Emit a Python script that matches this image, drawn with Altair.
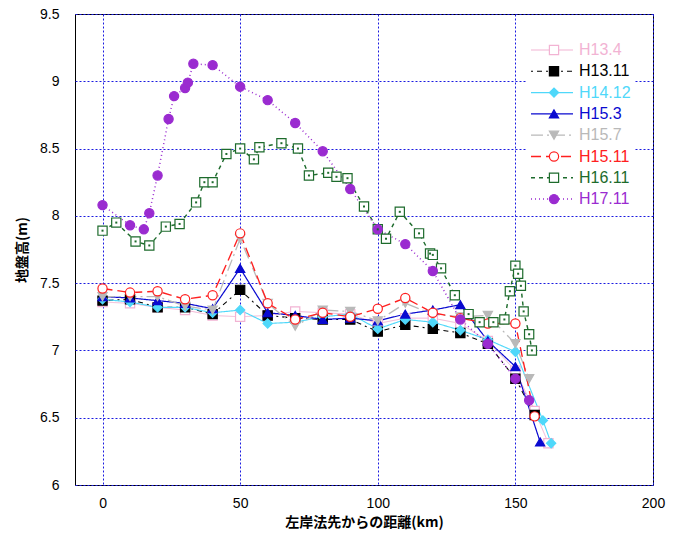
import altair as alt
import pandas as pd

series = ["H13.4", "H13.11", "H14.12", "H15.3", "H15.7", "H15.11", "H16.11", "H17.11"]
marker_keys = ["p0", "p1", "p2", "p3", "p4", "p5", "p6", "p7"]
colors = ["#f2b3d3", "#000000", "#4fd8fa", "#0a0ad0", "#b9b9b9", "#ff2020", "#1d6b2c", "#9a2bd0"]
dashes = [[1, 0], [2, 4, 5, 4], [1, 0], [1, 0], [12, 4, 2, 4], [10, 5], [4, 4], [1, 3]]
widths = [1.0, 1.5, 1.2, 2.0, 2.0, 1.2, 1.2, 1.6]
shapes = ["square", "square", "diamond", "triangle-up", "triangle-down", "circle", "square", "circle"]
fills = ["#ffffff", "#000000", "#4fd8fa", "#0a0ad0", "#b9b9b9", "#ffffff", "#ffffff", "#9a2bd0"]

x_h13_4 = [0, 10, 20, 30, 40, 50, 60, 70, 80, 90, 100, 110, 120, 130, 140, 150, 157, 162]
y_h13_4 = [7.36, 7.35, 7.32, 7.30, 7.26, 7.25, 7.26, 7.29, 7.28, 7.27, 7.20, 7.24, 7.24, 7.20, 7.07, 6.85, 6.55, 6.31]

x_h13_11 = [0, 10, 20, 30, 40, 50, 60, 70, 80, 90, 100, 110, 120, 130, 140, 150, 157]
y_h13_11 = [7.37, 7.38, 7.32, 7.32, 7.27, 7.45, 7.26, 7.24, 7.23, 7.23, 7.14, 7.19, 7.16, 7.13, 7.05, 6.79, 6.52]

x_h14_12 = [0, 10, 20, 30, 40, 50, 60, 70, 80, 90, 100, 110, 120, 130, 140, 150, 160, 163]
y_h14_12 = [7.38, 7.36, 7.32, 7.32, 7.28, 7.30, 7.20, 7.21, 7.25, 7.27, 7.16, 7.23, 7.21, 7.15, 7.08, 6.99, 6.48, 6.31]

x_h15_3 = [0, 10, 20, 30, 40, 50, 60, 70, 80, 90, 100, 110, 120, 130, 140, 150, 159]
y_h15_3 = [7.40, 7.39, 7.37, 7.35, 7.31, 7.61, 7.28, 7.26, 7.23, 7.24, 7.22, 7.27, 7.30, 7.34, 7.07, 6.88, 6.32]

x_h15_7 = [0, 10, 20, 30, 40, 50, 60, 70, 80, 90, 100, 110, 120, 130, 140, 150, 155]
y_h15_7 = [7.40, 7.40, 7.40, 7.33, 7.30, 7.83, 7.35, 7.18, 7.30, 7.29, 7.22, 7.35, 7.27, 7.25, 7.26, 7.05, 6.79]

x_h15_11 = [0, 10, 20, 30, 40, 50, 60, 70, 80, 90, 100, 110, 120, 130, 140, 150, 157]
y_h15_11 = [7.46, 7.43, 7.44, 7.38, 7.41, 7.87, 7.35, 7.23, 7.28, 7.25, 7.31, 7.39, 7.28, 7.24, 7.20, 7.20, 6.51]

x_h16_11 = [0, 5, 12, 17, 23, 28, 34, 37, 40, 45, 50, 55, 57, 65, 71, 75, 82, 85, 89, 95, 100,
            103, 108, 115, 119, 120, 123, 128, 133, 137, 142, 146, 148, 150, 151, 152, 153, 155, 156]
y_h16_11 = [7.89, 7.95, 7.81, 7.78, 7.92, 7.94, 8.10, 8.25, 8.25, 8.46, 8.50, 8.42, 8.51, 8.54, 8.50, 8.30, 8.32, 8.29, 8.28, 8.07, 7.90,
            7.83, 8.03, 7.87, 7.72, 7.71, 7.61, 7.41, 7.27, 7.21, 7.21, 7.23, 7.44, 7.63, 7.57, 7.48, 7.29, 7.12, 7.00]

x_h17_11 = [0, 10, 15, 17, 20, 24, 26, 30, 31, 33, 40, 50, 60, 70, 80, 90, 100, 110, 120, 130, 140, 150, 155]
y_h17_11 = [8.08, 7.93, 7.90, 8.02, 8.30, 8.72, 8.89, 8.95, 8.99, 9.13, 9.12, 8.96, 8.86, 8.69, 8.48, 8.20, 7.90, 7.79, 7.59, 7.23, 7.05, 6.79, 6.63]

xs = [x_h13_4, x_h13_11, x_h14_12, x_h15_3, x_h15_7, x_h15_11, x_h16_11, x_h17_11]
ys = [y_h13_4, y_h13_11, y_h14_12, y_h15_3, y_h15_7, y_h15_11, y_h16_11, y_h17_11]

rows = []
for s, k, xv, yv in zip(series, marker_keys, xs, ys):
    for i, (a, b) in enumerate(zip(xv, yv)):
        rows.append({"series": s, "mk": k, "x": a, "y": b, "ord": i})
df = pd.DataFrame(rows)

FONT = "Noto Sans CJK JP"
NUMFONT = "Liberation Sans"

label_expr = " : ".join(f"datum.value === '{s}' ? '{c}'" for s, c in zip(series, colors)) + " : 'black'"

leg_lines = alt.Legend(
    title=None, orient="none", legendX=451, legendY=24,
    symbolType="stroke", symbolSize=1764, clipHeight=16,
    labelFont=NUMFONT, labelFontSize=16, labelColor={"expr": label_expr},
    labelOffset=5, fillColor="white", padding=4, rowPadding=5.3,
)
leg_pts = alt.Legend(
    title=None, orient="none", legendX=467, legendY=24,
    symbolSize=85, symbolStrokeWidth=1.2, clipHeight=16,
    labelFont=NUMFONT, labelFontSize=16, labelOpacity=0, labelExpr="' '",
    labelOffset=5, padding=4, rowPadding=5.3,
)

x_enc = alt.X("x:Q", scale=alt.Scale(domain=[-10, 200], nice=False, zero=False),
              axis=alt.Axis(values=[0, 50, 100, 150, 200], format="d", labelFlush=False,
                            title="左岸法先からの距離(km)"))
y_enc = alt.Y("y:Q", scale=alt.Scale(domain=[6, 9.5], nice=False, zero=False),
              axis=alt.Axis(values=[6, 6.5, 7, 7.5, 8, 8.5, 9, 9.5], format="~g", labelFlush=False,
                            title="地盤高(m)"))

base = alt.Chart(df)

lines = base.mark_line().encode(
    x=x_enc, y=y_enc,
    color=alt.Color("series:N", scale=alt.Scale(domain=series, range=colors), legend=leg_lines),
    strokeDash=alt.StrokeDash("series:N", scale=alt.Scale(domain=series, range=dashes), legend=leg_lines),
    strokeWidth=alt.StrokeWidth("series:N", scale=alt.Scale(domain=series, range=widths), legend=leg_lines),
    order="ord:Q",
)

points = base.mark_point(size=85, strokeWidth=1.2, opacity=1, fillOpacity=1).encode(
    x=x_enc, y=y_enc,
    shape=alt.Shape("mk:N", scale=alt.Scale(domain=marker_keys, range=shapes), legend=leg_pts),
    fill=alt.Fill("mk:N", scale=alt.Scale(domain=marker_keys, range=fills), legend=leg_pts),
    stroke=alt.Stroke("mk:N", scale=alt.Scale(domain=marker_keys, range=colors), legend=leg_pts),
)

dots = base.transform_filter(alt.datum.series == "H16.11").mark_square(size=4, color="#1d6b2c", opacity=1).encode(
    x=x_enc, y=y_enc,
)

chart = alt.layer(lines, points, dots).properties(
    width=578, height=471,
    autosize=alt.AutoSizeParams(type="none"),
    padding={"left": 75, "top": 14, "right": 28, "bottom": 52},
).configure_view(
    stroke="black", strokeWidth=1
).configure_axis(
    grid=True, gridColor="#1a1ae0", gridDash=[2, 2], gridWidth=1,
    domain=False, ticks=False,
    labelFont=NUMFONT, labelFontSize=14, labelColor="black",
    titleFont=FONT, titleFontSize=14, titleFontWeight="bold", titleColor="black",
).configure_axisX(
    labelPadding=11, titlePadding=5,
).configure_axisY(
    labelPadding=16, titlePadding=10,
)

chart.save("out.html", embed_options={"renderer": "svg", "actions": False})
